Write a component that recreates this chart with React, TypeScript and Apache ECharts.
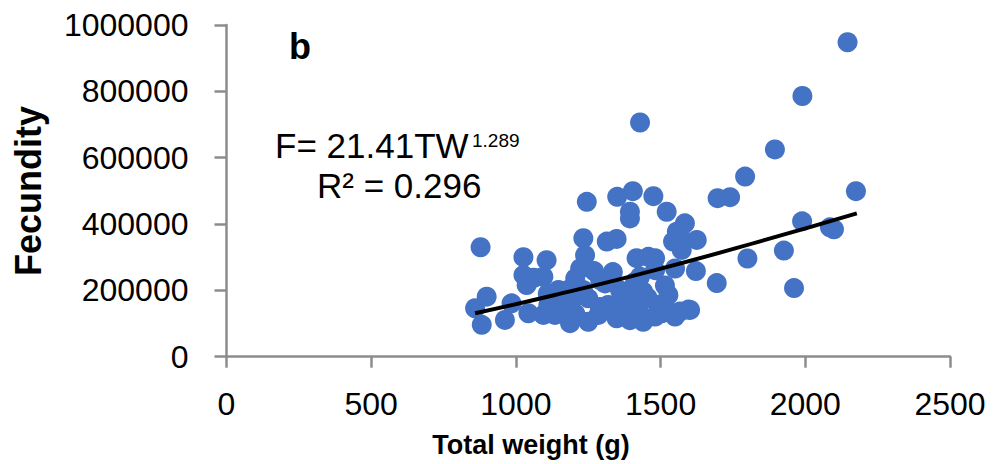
import React, { useEffect, useRef } from "react";
import * as echarts from "echarts";

const xTicks = [0, 500, 1000, 1500, 2000, 2500];
const yTicks = [0, 200000, 400000, 600000, 800000, 1000000];

const weights = [
  2146, 1990, 1895, 1792, 1429, 1697, 1740, 2175, 1989, 2085, 2099, 1584, 1625, 1573, 1926, 1800,
  1622, 1694, 1961, 1596, 1567, 1245, 1350, 1404, 1475, 1394, 1394, 1521, 1556, 1567, 1543, 1481,
  1550, 1527, 1492, 1504, 1550, 878, 1026, 1106, 1026, 1095, 1037, 1147, 859, 899, 882, 962,
  985, 1043, 1095, 1112, 1233, 1314, 1348, 1239, 1222, 1205, 1180, 1417, 1458, 1481, 1412, 1383,
  1440, 1308, 1319, 1250, 1181, 1187, 1250, 1285, 1348, 1394, 1440, 1481, 1498, 1135, 1429, 1360,
  1291, 1232, 1544, 1383, 1602, 1205, 1330, 1335, 1365, 1425, 1270, 1160, 1062, 1290, 1455, 1515,
  1215, 1110,
];
const fecundity = [
  948000, 786000, 625000, 543000, 706000, 478000, 481000, 499000, 408000, 390000, 384000, 402000,
  352000, 322000, 320000, 296000, 258000, 222000, 207000, 142000, 136000, 467000, 482000, 499000,
  484000, 437000, 417000, 437000, 377000, 367000, 347000, 297000, 266000, 186000, 156000, 131000,
  121000, 330000, 300000, 291000, 246000, 241000, 216000, 201000, 146000, 181000, 96000, 111000,
  161000, 131000, 126000, 156000, 357000, 347000, 355000, 306000, 266000, 236000, 201000, 297000,
  301000, 261000, 226000, 176000, 196000, 221000, 156000, 176000, 151000, 101000, 105000, 126000,
  116000, 110000, 105000, 121000, 156000, 126000, 241000, 200000, 231000, 201000, 131000, 132000,
  141000, 130000, 145000, 255000, 160000, 150000, 258000, 178000, 238000, 150000, 178000, 215000,
  185000, 190000,
];

// Trend line points
const trendX = [859, 1135, 1481, 1861, 2178];
const trendY = [131000, 186000, 261000, 352000, 432000];

const equationMain = "F= 21.41TW";
const equationExp = "1.289";
const rSquared = "R\u00B2 = 0.296";
const panelLabel = "b";
const xTitle = "Total weight (g)";
const yTitle = "Fecundity";

const FONT = "'Liberation Sans', Arial, sans-serif";

export default function App() {
  const ref = useRef<HTMLDivElement>(null);
  useEffect(() => {
    if (!ref.current) return;
    const chart = echarts.init(ref.current, undefined, { renderer: "svg" });
    const pts = weights.map((w, i) => [w, fecundity[i]]);
    const trend = trendX.map((x, i) => [x, trendY[i]]);
    chart.setOption({
      animation: false,
      backgroundColor: "#ffffff",
      grid: {
        left: 226.5,
        right: 43,
        top: 25,
        bottom: 107.3,
        containLabel: false,
        outerBoundsMode: "none",
      },
      xAxis: {
        type: "value",
        min: xTicks[0],
        max: xTicks[xTicks.length - 1],
        interval: 500,
        splitLine: { show: false },
        axisLine: { show: true, onZero: false, lineStyle: { color: "#8c8c8c", width: 2.5 } },
        axisTick: { show: true, inside: false, length: 11, lineStyle: { color: "#8c8c8c", width: 2.5 } },
        axisLabel: {
          color: "#000",
          fontSize: 32,
          fontFamily: FONT,
          margin: 31,
          formatter: (v: number) => String(v),
        },
      },
      yAxis: {
        type: "value",
        min: yTicks[0],
        max: yTicks[yTicks.length - 1],
        interval: 200000,
        splitLine: { show: false },
        axisLine: { show: true, onZero: false, lineStyle: { color: "#8c8c8c", width: 2.5 } },
        axisTick: { show: true, inside: false, length: 12, lineStyle: { color: "#8c8c8c", width: 2.5 } },
        axisLabel: {
          color: "#000",
          fontSize: 32,
          fontFamily: FONT,
          margin: 38,
          formatter: (v: number) => String(v),
        },
      },
      series: [
        {
          type: "scatter",
          data: pts,
          symbol: "circle",
          symbolSize: 20,
          itemStyle: { color: "#4472C4", opacity: 1 },
          z: 2,
        },
        {
          type: "line",
          data: trend,
          smooth: true,
          showSymbol: false,
          symbol: "none",
          lineStyle: { color: "#000000", width: 4 },
          z: 3,
        },
      ],
      graphic: [
        {
          type: "text",
          x: 300,
          y: 46,
          style: {
            text: panelLabel,
            font: `bold 36px ${FONT}`,
            fill: "#000",
            align: "center",
            verticalAlign: "middle",
          },
        },
        {
          type: "text",
          x: 275,
          y: 145,
          style: {
            text: equationMain,
            font: `35px ${FONT}`,
            fill: "#000",
            align: "left",
            verticalAlign: "middle",
          },
        },
        {
          type: "text",
          x: 472,
          y: 140,
          style: {
            text: equationExp,
            font: `19px ${FONT}`,
            fill: "#000",
            align: "left",
            verticalAlign: "middle",
          },
        },
        {
          type: "text",
          x: 317,
          y: 185,
          style: {
            text: rSquared,
            font: `35px ${FONT}`,
            fill: "#000",
            align: "left",
            verticalAlign: "middle",
          },
        },
        {
          type: "text",
          x: 531,
          y: 445,
          style: {
            text: xTitle,
            font: `bold 27px ${FONT}`,
            fill: "#000",
            align: "center",
            verticalAlign: "middle",
          },
        },
        {
          type: "text",
          x: 28,
          y: 191,
          rotation: Math.PI / 2,
          style: {
            text: yTitle,
            font: `bold 36px ${FONT}`,
            fill: "#000",
            align: "center",
            verticalAlign: "middle",
          },
        },
      ],
    });
    return () => chart.dispose();
  }, []);
  return (
    <div
      ref={ref}
      style={{ position: "absolute", left: 0, top: 0, width: 993, height: 464, background: "#fff" }}
    />
  );
}
